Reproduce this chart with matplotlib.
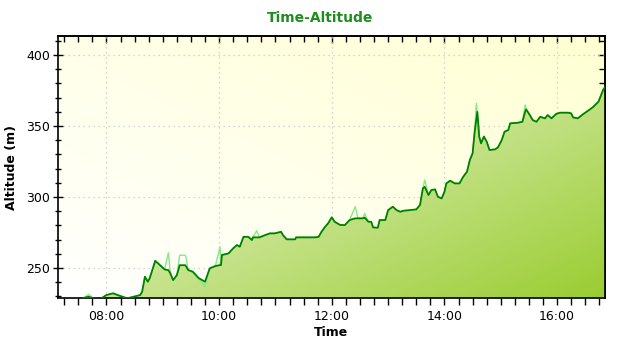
import numpy as np
import matplotlib
matplotlib.use("Agg")
import matplotlib.pyplot as plt
from matplotlib.colors import LinearSegmentedColormap
from matplotlib.ticker import MultipleLocator, FuncFormatter, NullFormatter

# time of day and altitude (m)
times = ["07:36", "07:41", "07:46", "07:53", "08:00", "08:07", "08:14", "08:22",
         "08:29", "08:36", "08:38", "08:41", "08:44", "08:46", "08:52", "08:55",
         "08:58", "09:02", "09:06", "09:08", "09:11", "09:15", "09:18", "09:24",
         "09:25", "09:27", "09:32", "09:38", "09:45", "09:50", "09:56", "10:01",
         "10:02", "10:03", "10:10", "10:15", "10:19", "10:22", "10:26", "10:31",
         "10:35", "10:36", "10:40", "10:43", "10:49", "10:54", "10:59", "11:06",
         "11:08", "11:12", "11:21", "11:22", "11:33", "11:42", "11:46", "11:49",
         "11:53", "11:56", "12:00", "12:03", "12:09", "12:14", "12:19", "12:25",
         "12:28", "12:33", "12:35", "12:39", "12:42", "12:44", "12:49", "12:51",
         "12:57", "13:00", "13:05", "13:09", "13:13", "13:16", "13:30", "13:34",
         "13:37", "13:39", "13:43", "13:46", "13:50", "13:53", "13:57", "14:00",
         "14:02", "14:06", "14:11", "14:16", "14:20", "14:24", "14:27", "14:30",
         "14:32", "14:34", "14:35", "14:36", "14:37", "14:39", "14:42", "14:45",
         "14:48", "14:54", "14:57", "15:01", "15:04", "15:08", "15:10", "15:18",
         "15:23", "15:26", "15:27", "15:31", "15:34", "15:38", "15:42", "15:47",
         "15:50", "15:54", "15:59", "16:03", "16:12", "16:15", "16:17", "16:22",
         "16:28", "16:33", "16:38", "16:44", "16:49", "16:51"]

alt_smooth = [229.0, 229.8, 228.7, 228.0, 231.0, 232.2, 230.5, 228.7,
              229.8, 231.0, 233.3, 243.9, 240.4, 242.7, 255.1, 253.3,
              251.4, 249.0, 248.5, 246.3, 241.5, 245.0, 252.0, 252.0,
              251.0, 248.6, 247.4, 243.0, 240.4, 249.8, 251.4, 252.1,
              252.1, 259.2, 260.3, 263.9, 266.2, 265.0, 272.0, 272.0,
              269.7, 271.6, 271.6, 271.6, 273.2, 274.4, 274.4, 275.5,
              273.2, 270.2, 270.2, 271.6, 271.6, 271.6, 272.0, 275.5,
              279.1, 281.4, 285.7, 282.6, 280.3, 280.3, 283.8, 285.0,
              285.0, 285.0, 285.5, 282.6, 282.6, 278.6, 278.4, 283.8,
              283.8, 290.8, 293.2, 290.8, 289.6, 290.3, 291.3, 294.4,
              306.1, 307.2, 301.4, 304.9, 305.4, 300.2, 299.0, 303.7,
              309.6, 311.5, 309.6, 309.6, 314.3, 317.8, 326.0, 330.8,
              344.9, 355.0, 360.0, 351.9, 342.6, 337.8, 342.6, 339.0,
              333.1, 333.6, 335.0, 340.1, 346.0, 347.2, 351.9, 352.3,
              353.0, 360.1, 361.7, 357.7, 354.2, 353.0, 356.5, 355.4,
              357.7, 355.4, 358.5, 359.4, 359.4, 358.9, 356.1, 355.4,
              358.5, 360.8, 363.2, 367.1, 375.4, 377.5]

alt_raw = list(alt_smooth)
spikes = {"07:41": 231.5, "09:06": 260.8, "09:18": 259.0, "09:24": 259.0,
          "09:25": 256.8, "09:45": 236.8, "10:01": 265.0, "10:40": 276.3,
          "12:25": 293.2, "12:35": 288.5, "13:39": 312.0, "14:34": 366.0,
          "15:26": 364.8}
for k, v in spikes.items():
    alt_raw[times.index(k)] = v


def to_min(s):
    h, m = s.split(":")
    return int(h) * 60 + int(m)


t = np.array([to_min(s) for s in times], dtype=float)
ys = np.array(alt_smooth)
yr = np.array(alt_raw)

x0, x1 = to_min("07:08") + 0.4, to_min("16:51")
y0, y1 = 228.9, 413.4

fig = plt.figure(figsize=(6.4, 3.5), dpi=100)
ax = fig.add_axes([58 / 640, 52 / 350, 547 / 640, 262 / 350])

# background gradient: white bottom-left -> light yellow top-right
gx, gy = np.meshgrid(np.linspace(0, 1, 200), np.linspace(0, 1, 200))
bg_cmap = LinearSegmentedColormap.from_list("bg", ["#ffffff", "#ffffd2"])
ax.imshow((gx + gy) / 2, extent=[x0, x1, y0, y1], origin="lower",
          aspect="auto", cmap=bg_cmap, vmin=0, vmax=1, zorder=0)

# fill gradient: white top-left -> yellowgreen bottom-right
fill_cmap = LinearSegmentedColormap.from_list("fill", ["#ffffff", "#9acd32"])
im = ax.imshow((gx + (1 - gy)) / 2, extent=[x0, x1, y0, y1], origin="lower",
               aspect="auto", cmap=fill_cmap, vmin=0, vmax=1, zorder=1)
poly = ax.fill_between(t, ys, y0, color="none", lw=0)
im.set_clip_path(poly.get_paths()[0], transform=ax.transData)

ax.plot(t, yr, color="#86e886", lw=1.0, zorder=2)
ax.plot(t, ys, color="#008000", lw=1.3, zorder=3)

ax.set_xlim(x0, x1)
ax.set_ylim(y0, y1)

ax.xaxis.set_major_locator(MultipleLocator(120))
ax.xaxis.set_minor_locator(MultipleLocator(15))
ax.xaxis.set_major_formatter(FuncFormatter(lambda v, p: "%02d:%02d" % (v // 60, v % 60)))
ax.yaxis.set_major_locator(MultipleLocator(50))
ax.yaxis.set_minor_locator(MultipleLocator(10))

ax.set_axisbelow(True)
ax.grid(True, which="major", color="#c8c8c8", linestyle=(0, (1, 3)), lw=0.9)

ax.tick_params(which="both", labelsize=9, color="black", width=1)
ax.tick_params(axis="x", which="both", direction="out", length=5, pad=4)
ax.tick_params(axis="y", which="major", direction="inout", length=7, pad=2)
ax.tick_params(axis="y", which="minor", direction="inout", length=5)
for sp in ax.spines.values():
    sp.set_linewidth(1.2)

# inward ticks on top and right
top = ax.secondary_xaxis("top")
top.xaxis.set_major_locator(MultipleLocator(120))
top.xaxis.set_minor_locator(MultipleLocator(15))
top.xaxis.set_major_formatter(NullFormatter())
top.tick_params(which="major", direction="in", length=5, width=1)
top.tick_params(which="minor", direction="in", length=4, width=1)
top.spines["top"].set_linewidth(1.2)

right = ax.secondary_yaxis("right")
right.yaxis.set_major_locator(MultipleLocator(50))
right.yaxis.set_minor_locator(MultipleLocator(10))
right.yaxis.set_major_formatter(NullFormatter())
right.tick_params(which="major", direction="in", length=5, width=1)
right.tick_params(which="minor", direction="in", length=4, width=1)
right.spines["right"].set_linewidth(1.2)

ax.set_xlabel("Time", fontsize=9, fontweight="bold", labelpad=2)
ax.set_ylabel("Altitude (m)", fontsize=9, fontweight="bold", labelpad=6)
fig.text(0.5, 1 - 18 / 350, "Time-Altitude", ha="center", va="center",
         fontsize=10, fontweight="bold", color="#1e8c1e")

fig.savefig("out.png", dpi=100)
